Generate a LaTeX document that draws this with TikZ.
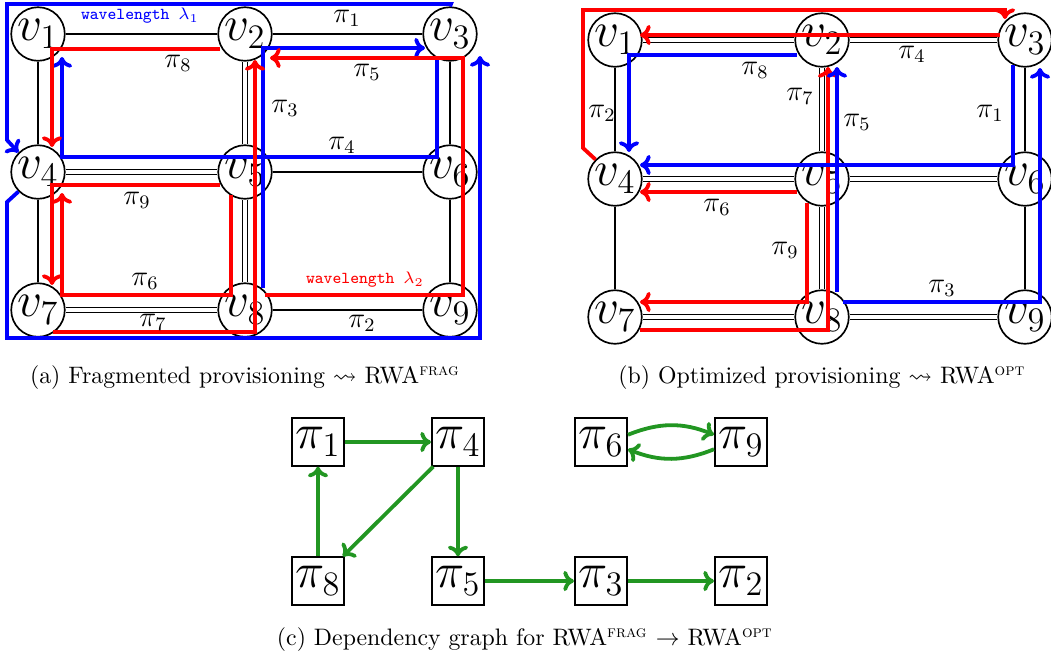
\documentclass[tikz,border=0pt]{standalone}
\usepackage{amsmath,amssymb}
\usetikzlibrary{arrows.meta}
\definecolor{dgreen}{RGB}{34,150,34}
\begin{document}
\begin{tikzpicture}[x=0.42pt,y=-0.42pt,
 vtx/.style={circle,draw,line width=0.7pt,minimum size=22.5pt,inner sep=0pt,fill=white,font=\fontsize{19.5}{22}\selectfont},
 sedge/.style={line width=0.7pt},
 dedge/.style={double,line width=0.5pt,double distance=1.3pt},
 rp/.style={draw=red,line width=1.6pt},
 bp/.style={draw=blue,line width=1.6pt},
 tip/.style={-{Computer Modern Rightarrow[length=4.5pt,width=8.5pt]}},
 plab/.style={font=\large,inner sep=0pt},
 wl/.style={font=\ttfamily\scriptsize,inner sep=0pt},
 pbox/.style={draw,line width=0.7pt,font=\huge,minimum width=22pt,minimum height=20pt,inner sep=1pt},
 dep/.style={draw=dgreen,line width=1.6pt,-{Computer Modern Rightarrow[length=4.5pt,width=8.5pt]}},
 capt/.style={font=\normalsize,inner sep=0pt}
]
\fill[white] (0,0) rectangle (1051,664);
\useasboundingbox (0,0) rectangle (1051,664);

% ---------- panel (a) ----------
\node[vtx] (a1) at (38,34) {$v_1$};
\node[vtx] (a2) at (245,34) {$v_2$};
\node[vtx] (a3) at (450,34) {$v_3$};
\node[vtx] (a4) at (38,172) {$v_4$};
\node[vtx] (a5) at (245,172) {$v_5$};
\node[vtx] (a6) at (450,172) {$v_6$};
\node[vtx] (a7) at (38,310) {$v_7$};
\node[vtx] (a8) at (245,310) {$v_8$};
\node[vtx] (a9) at (450,310) {$v_9$};
\draw[sedge] (a1) -- (a2);
\draw[sedge] (a2) -- (a3);
\draw[sedge] (a1) -- (a4);
\draw[sedge] (a4) -- (a7);
\draw[sedge] (a3) -- (a6);
\draw[sedge] (a6) -- (a9);
\draw[sedge] (a5) -- (a6);
\draw[sedge] (a8) -- (a9);
\draw[dedge] (a4) -- (a5);
\draw[dedge] (a7) -- (a8);
\draw[dedge] (a2) -- (a5);
\draw[dedge] (a5) -- (a8);

% blue (wavelength 1)
\draw[bp,tip] (a3.north) -- (451,4) -- (7,4) -- (7,140) -- (a4.north west);
\draw[bp,tip] (a4.south west) -- (7,202) -- (7,338) -- (480,338) -- (480,56);
\draw[bp,tip] (263,288) -- (263,48) -- (425,48);
\draw[bp,tip] (437,60) -- (437,157) -- (62,157) -- (62,57);
% red (wavelength 2)
\draw[rp,tip] (220,49) -- (52,49) -- (52,147);
\draw[rp,tip] (265,295) -- (463,295) -- (463,58) -- (270,58);
\draw[rp,tip] (53,332) -- (255,332) -- (255,60);
\draw[rp,tip] (220,185) -- (52,185) -- (52,285);
\draw[rp,tip] (231,195) -- (231,295) -- (62,295) -- (62,193);

\node[plab] (la1) at (347,18) {$\pi_1$};
\node[plab] (la8) at (178,63) {$\pi_8$};
\node[plab] (la5) at (367,72) {$\pi_5$};
\node[plab] (la3) at (285,108) {$\pi_3$};
\node[plab] (la4) at (342,145) {$\pi_4$};
\node[plab] (la9) at (137,200) {$\pi_9$};
\node[plab] (la6) at (145,281) {$\pi_6$};
\node[plab] (la7) at (153,322) {$\pi_7$};
\node[plab] (la2) at (362,323) {$\pi_2$};
\node[wl,text=blue] (wl1) at (140,16) {wavelength $\lambda_1$};
\node[wl,text=red] (wl2) at (365,280) {wavelength $\lambda_2$};

% ---------- panel (b) ----------
\node[vtx] (b1) at (615,40) {$v_1$};
\node[vtx] (b2) at (822,40) {$v_2$};
\node[vtx] (b3) at (1025,40) {$v_3$};
\node[vtx] (b4) at (615,179) {$v_4$};
\node[vtx] (b5) at (822,179) {$v_5$};
\node[vtx] (b6) at (1025,179) {$v_6$};
\node[vtx] (b7) at (615,317) {$v_7$};
\node[vtx] (b8) at (822,317) {$v_8$};
\node[vtx] (b9) at (1025,317) {$v_9$};
\draw[sedge] (b1) -- (b4);
\draw[sedge] (b4) -- (b7);
\draw[sedge] (b3) -- (b6);
\draw[sedge] (b6) -- (b9);
\draw[dedge] (b1) -- (b2);
\draw[dedge] (b2) -- (b3);
\draw[dedge] (b4) -- (b5);
\draw[dedge] (b5) -- (b6);
\draw[dedge] (b7) -- (b8);
\draw[dedge] (b8) -- (b9);
\draw[dedge] (b2) -- (b5);
\draw[dedge] (b5) -- (b8);

% red
\draw[rp,tip] (b4.north west) -- (583,148) -- (583,10) -- (1005,10) -- (1005,19);
\draw[rp,tip] (1000,35) -- (640,35);
\draw[rp,tip] (640,330) -- (828,330) -- (828,67);
\draw[rp,tip] (797,192) -- (640,192);
\draw[rp,tip] (807,203) -- (807,302) -- (640,302);
% blue
\draw[bp,tip] (797,55) -- (629,55) -- (629,152);
\draw[bp,tip] (837,292) -- (837,67);
\draw[bp,tip] (843,302) -- (1040,302) -- (1040,68);
\draw[bp,tip] (1013,65) -- (1013,165) -- (640,165);

\node[plab] (lb2) at (602,113) {$\pi_2$};
\node[plab] (lb8) at (755,70) {$\pi_8$};
\node[plab] (lb7) at (800,96) {$\pi_7$};
\node[plab] (lb4) at (912,54) {$\pi_4$};
\node[plab] (lb5) at (857,122) {$\pi_5$};
\node[plab] (lb1) at (990,113) {$\pi_1$};
\node[plab] (lb6) at (717,207) {$\pi_6$};
\node[plab] (lb9) at (785,250) {$\pi_9$};
\node[plab] (lb3) at (942,288) {$\pi_3$};

% captions
\node[capt] (capa) at (245,378) {(a) Fragmented provisioning $\leadsto$ RWA$^{\textsc{frag}}$};
\node[capt] (capb) at (822,378) {(b) Optimized provisioning $\leadsto$ RWA$^{\textsc{opt}}$};

% ---------- panel (c) ----------
\node[pbox] (p1) at (318,442) {$\pi_1$};
\node[pbox] (p4) at (458,442) {$\pi_4$};
\node[pbox] (p6) at (601,442) {$\pi_6$};
\node[pbox] (p9) at (741,442) {$\pi_9$};
\node[pbox] (p8) at (318,581) {$\pi_8$};
\node[pbox] (p5) at (458,581) {$\pi_5$};
\node[pbox] (p3) at (601,581) {$\pi_3$};
\node[pbox] (p2) at (741,581) {$\pi_2$};
\draw[dep] (p1) -- (p4);
\draw[dep] (p4) -- (p8);
\draw[dep] (p4) -- (p5);
\draw[dep] (p8) -- (p1);
\draw[dep] (p5) -- (p3);
\draw[dep] (p3) -- (p2);
\draw[dep] (p6.15) to[bend left=22] (p9.165);
\draw[dep] (p9.-165) to[bend left=22] (p6.-15);

\node[capt] (capc) at (525,640) {(c) Dependency graph for RWA$^{\textsc{frag}}$ $\to$ RWA$^{\textsc{opt}}$};
\end{tikzpicture}
\end{document}
